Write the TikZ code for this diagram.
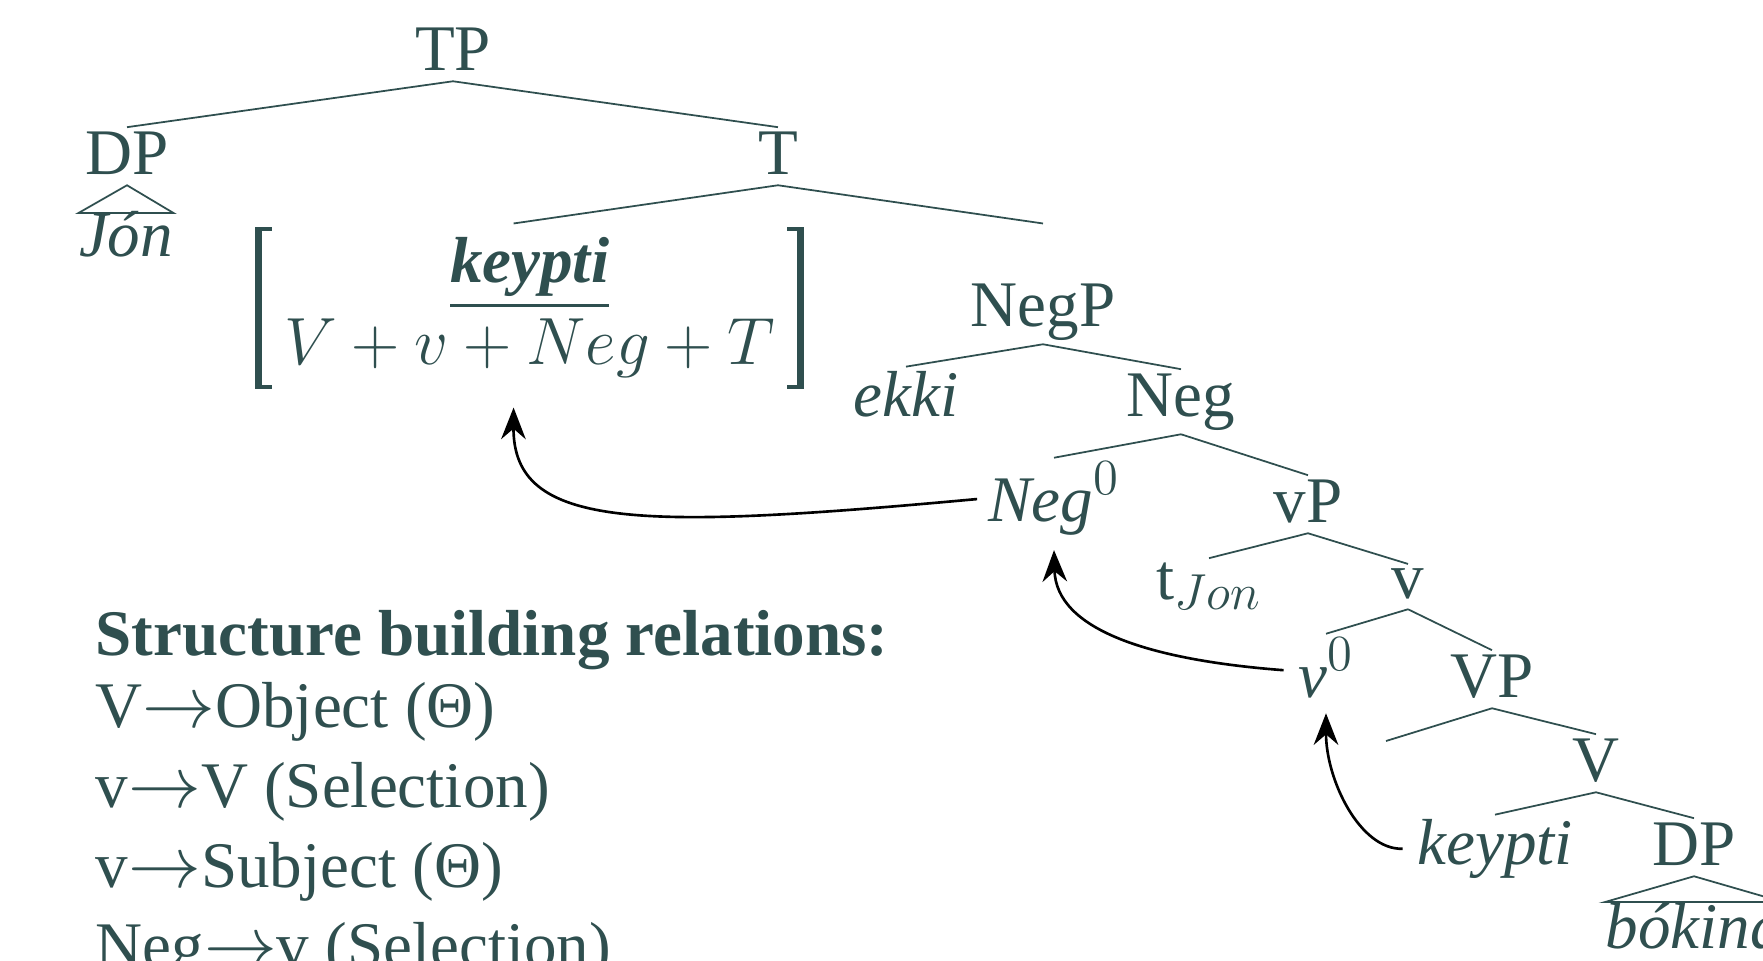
\RequirePackage{fix-cm}
\documentclass[tikz,border=0pt]{standalone}
\usepackage{amsmath}
\usepackage[no-math]{fontspec}
\setmainfont{Liberation Serif}
\usepackage{tikz}
\usetikzlibrary{arrows.meta}
\definecolor{slate}{RGB}{47,79,79}
\DeclareMathSizes{18.5}{20.7}{14.4}{10.4}
\DeclareMathSizes{17}{19}{13.3}{9.5}
\newcommand{\bigsize}{\fontsize{18.5}{22.2}\selectfont}
\newcommand{\brksize}{\fontsize{17}{22.2}\selectfont}

\begin{document}
\begin{tikzpicture}[x=0.01cm, y=-0.01cm,
  lbl/.style={text=slate, font=\bigsize, inner sep=1pt, anchor=base,
    execute at begin node={\rule[-2pt]{0pt}{2pt}}},
  tri/.style={text=slate, font=\bigsize, inner sep=0pt, anchor=base},
  txt/.style={text=slate, font=\bigsize, inner sep=0pt, anchor=base west},
  branch/.style={draw=slate, line width=0.5pt},
  move/.style={draw=black, line width=0.75pt, -{Stealth[length=9pt, width=7pt, inset=3pt]}}]
  \useasboundingbox (0,0) rectangle (1763,960);
  \clip (0,0) rectangle (1763,960);

  % tree
  \node[lbl] (TP) at (453,70) {TP};
  \node[lbl] (DP) at (127,174) {DP};
  \node[tri, text height=12pt] (Jon) at (126,256) {\textit{Jón}};
  \node[lbl] (T) at (778,174) {T};
  \node[text=slate, font=\brksize, inner sep=0pt, minimum width=5.48cm, minimum height=1.57cm] (brk) at (529.6,308)
    {$\begin{matrix}\underline{\mbox{\bigsize\bfseries\itshape keypti}}\\[1pt] V+v+Neg+T\end{matrix}$};
  % brackets round the head
  \fill[slate] (brk.north west) rectangle ([xshift=0.07cm]brk.south west);
  \fill[slate] (brk.north west) rectangle ([xshift=0.17cm, yshift=-0.034cm]brk.north west);
  \fill[slate] (brk.south west) rectangle ([xshift=0.17cm, yshift=0.034cm]brk.south west);
  \fill[slate] (brk.north east) rectangle ([xshift=-0.07cm]brk.south east);
  \fill[slate] (brk.north east) rectangle ([xshift=-0.17cm, yshift=-0.034cm]brk.north east);
  \fill[slate] (brk.south east) rectangle ([xshift=-0.17cm, yshift=0.034cm]brk.south east);
  \node[lbl] (NegP) at (1043,326) {NegP};
  \node[lbl] (ekki) at (906,416) {\textit{ekki}};
  \node[lbl] (Neg) at (1181,416) {Neg};
  \node[lbl] (Neg0) at (1054,521) {\textit{Neg}$^0$};
  \node[lbl] (vP) at (1308,522) {vP};
  \node[lbl] (tJon) at (1209,599) {t$_{Jon}$};
  \node[lbl] (v) at (1408,598) {v};
  \node[lbl] (v0) at (1326,697) {\textit{v}$^0$};
  \node[lbl] (VP) at (1492,697) {VP};
  \coordinate (spec) at (1386,741);
  \node[lbl] (V) at (1596,781) {V};
  \node[lbl] (keypti) at (1495,864) {\textit{keypti}};
  \node[lbl] (DPo) at (1694,865) {DP};
  \node[tri] (bokina) at (1694,948) {\textit{bókina}};

  \draw[branch] (TP.south) -- (DP.north);
  \draw[branch] (TP.south) -- (T.north);
  \draw[branch] (T.south) -- ([xshift=-0.16cm, yshift=0.04cm]brk.north);
  \draw[branch] (T.south) -- ([yshift=0.04cm]NegP.north |- brk.north);
  \draw[branch] (NegP.south) -- (ekki.north);
  \draw[branch] (NegP.south) -- (Neg.north);
  \draw[branch] (Neg.south) -- (Neg0.north);
  \draw[branch] (Neg.south) -- (vP.north);
  \draw[branch] (vP.south) -- (tJon.north);
  \draw[branch] (vP.south) -- (v.north);
  \draw[branch] (v.south) -- (v0.north);
  \draw[branch] (v.south) -- (VP.north);
  \draw[branch] (VP.south) -- (spec);
  \draw[branch] (VP.south) -- (V.north);
  \draw[branch] (V.south) -- (keypti.north);
  \draw[branch] (V.south) -- (DPo.north);
  \draw[branch] (DP.south) -- (Jon.north west) -- (Jon.north east) -- cycle;
  \draw[branch] (DPo.south) -- (bokina.north west) -- (bokina.north east) -- cycle;

  % head movement
  \draw[move, shorten <=2pt] (Neg0.west) .. controls (640,530) and (513,530) .. ([xshift=-0.16cm, yshift=-0.19cm]brk.south);
  \draw[move, shorten <=3pt] (v0.west) .. controls (1150,660) and (1056,630) .. ([yshift=-0.11cm]Neg0.south);
  \draw[move, shorten <=3pt] (keypti.west) .. controls (1360,850) and (1326,780) .. ([yshift=-0.05cm]v0.south);

  % relations
  \node[txt] (rel) at (95,655) {\bfseries Structure building relations:};
  \node[txt] (r1) at (95,727) {V$\rightarrow$Object (Θ)};
  \node[txt] (r2) at (95,807) {v$\rightarrow$V (Selection)};
  \node[txt] (r3) at (95,887) {v$\rightarrow$Subject (Θ)};
  \node[txt] (r4) at (95,967) {Neg$\rightarrow$v (Selection)};
\end{tikzpicture}
\end{document}
